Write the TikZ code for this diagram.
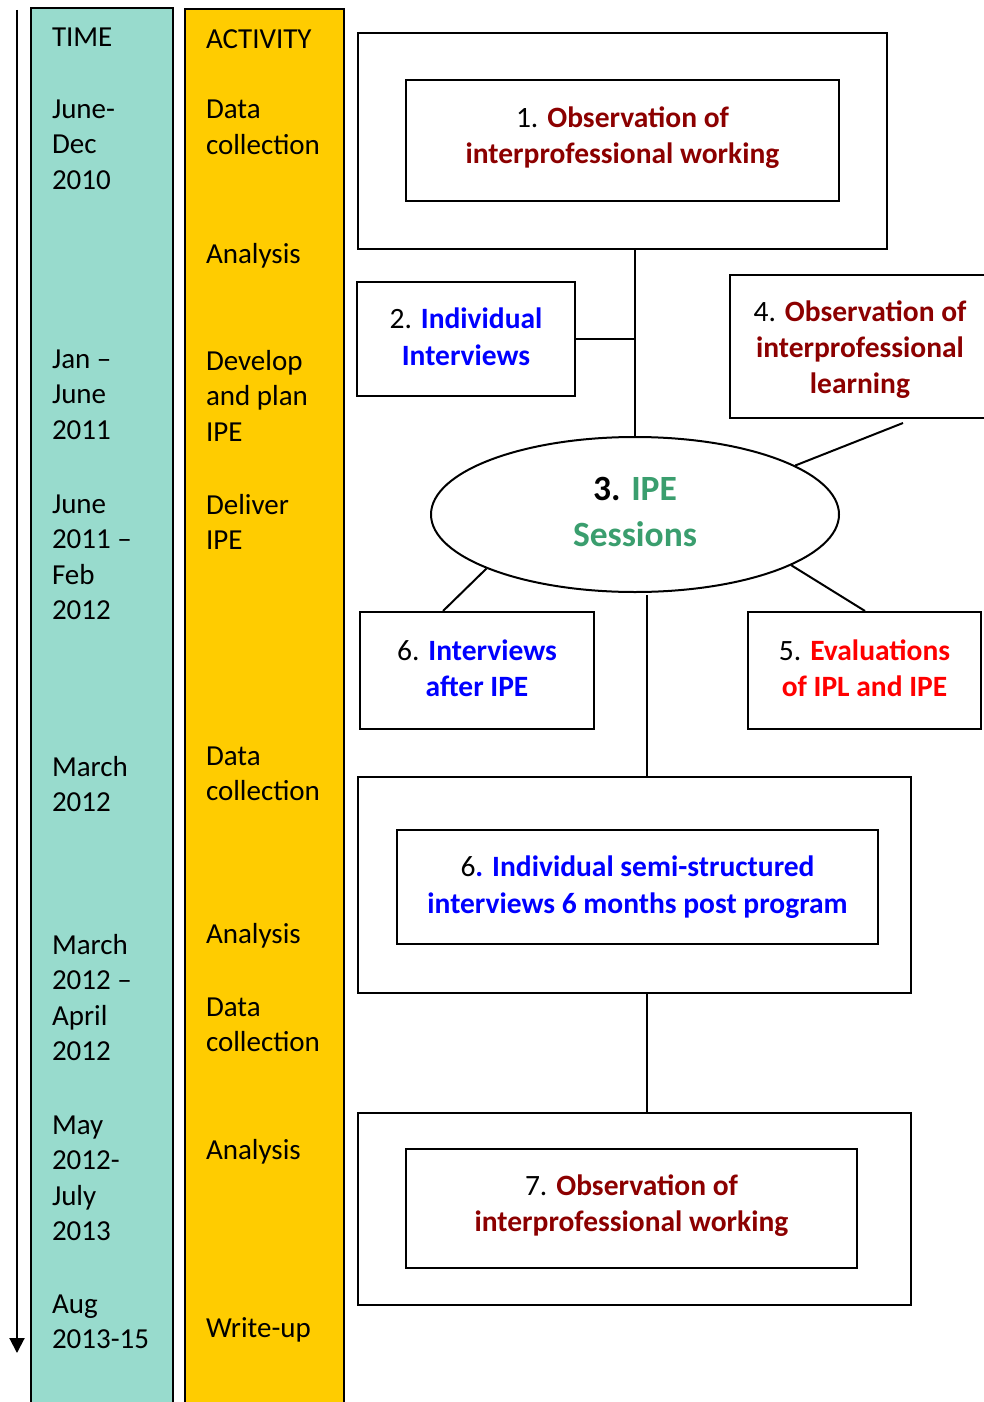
\documentclass[tikz,border=0pt]{standalone}
\usepackage{fontspec}
\setmainfont{Carlito}
\usetikzlibrary{shapes.geometric,arrows.meta}
\definecolor{timecol}{RGB}{152,219,205}
\definecolor{actcol}{RGB}{255,204,0}
\definecolor{obsred}{RGB}{140,0,0}
\definecolor{intblue}{RGB}{0,0,255}
\definecolor{evalred}{RGB}{255,0,0}
\definecolor{ipegreen}{RGB}{58,158,110}
\newcommand{\tstrut}{\rule{0pt}{24pt}}
\newcommand{\lift}[1]{\rule[-#1pt]{0pt}{0pt}}
\newcommand{\obs}[1]{\textcolor{obsred}{\textbf{#1}}}
\newcommand{\blu}[1]{\textcolor{intblue}{\textbf{#1}}}
\newcommand{\evl}[1]{\textcolor{evalred}{\textbf{#1}}}
\newcommand{\grn}[1]{\textcolor{ipegreen}{\textbf{#1}}}
\begin{document}
\begin{tikzpicture}[x=1pt,y=-1pt,line width=2pt,
  colbar/.style={draw,rectangle,inner sep=0pt,minimum width=#1},
  coltext/.style={anchor=north west,inner sep=0pt,align=left,
    font=\fontsize{29}{35.6}\selectfont},
  box/.style={draw,rectangle,inner sep=0pt,align=center,
    font=\fontsize{29.5}{36.5}\selectfont},
  frame/.style={draw,rectangle,inner sep=0pt}]
\useasboundingbox (0,0) rectangle (983,1402);
\fill[white] (0,0) rectangle (983,1402);

% time axis
\coordinate (ax0) at (17,10);
\coordinate (ax1) at (17,1353);
\draw[-{Triangle[length=15pt,width=15pt]}] (ax0) -- (ax1);

% the two column bars (bottoms run past the page edge)
\node[colbar=142,fill=timecol,minimum height=1412] (timebar) at (102,714) {};
\node[colbar=159,fill=actcol,minimum height=1411] (actbar) at (264.5,714.5) {};

% time column
\node[coltext] (tm0) at (51,22) {\tstrut TIME};
\node[coltext] (tm1) at (51,93) {\tstrut June-\\Dec\\2010};
\node[coltext] (tm2) at (51,343) {\tstrut Jan --\\June\\2011};
\node[coltext] (tm3) at (51,488) {\tstrut June\\2011 --\\Feb\\2012};
\node[coltext] (tm4) at (51,751) {\tstrut March\\2012};
\node[coltext] (tm5) at (51,929) {\tstrut March\\2012 --\\April\\2012};
\node[coltext] (tm6) at (51,1109) {\tstrut May\\2012-\\July\\2013};
\node[coltext] (tm7) at (51,1288) {\tstrut Aug\\2013-15};

% activity column
\node[coltext] (ac0) at (205,24) {\tstrut ACTIVITY};
\node[coltext] (ac1) at (205,94) {\tstrut Data\\collection};
\node[coltext] (ac2) at (205,238) {\tstrut Analysis};
\node[coltext] (ac3) at (205,345) {\tstrut Develop\\and plan\\IPE};
\node[coltext] (ac4) at (205,489) {\tstrut Deliver\\IPE};
\node[coltext] (ac5) at (205,740) {\tstrut Data\\collection};
\node[coltext] (ac6) at (205,918) {\tstrut Analysis};
\node[coltext] (ac7) at (205,991) {\tstrut Data\\collection};
\node[coltext] (ac8) at (205,1134) {\tstrut Analysis};
\node[coltext] (ac9) at (205,1312) {\tstrut Write-up};

% stage 1
\node[frame,minimum width=529,minimum height=216] (b1out) at (622.5,141) {};
\node[box,minimum width=433,minimum height=121] (b1in) at (622.5,140.5)
  {1. \obs{Observation of}\\\obs{interprofessional working}\lift{11}};

% stage 2
\node[box,minimum width=218,minimum height=114] (b2) at (466,339)
  {2. \blu{Individual}\\\blu{Interviews}\lift{5}};

% stage 4 (right edge runs past the page edge)
\node[frame,minimum width=270,minimum height=143] (b4) at (865,346.5) {};
\node[box,draw=none,font=\fontsize{29.5}{36}\selectfont] (t4) at (860,351)
  {4. \obs{Observation of}\\\obs{interprofessional}\\\obs{learning}\lift{8}};

% stage 3
\node[draw,ellipse,inner sep=0pt,minimum width=408,minimum height=155,
  align=center,font=\fontsize{35.5}{45.5}\selectfont] (ipe) at (635,514.5)
  {\textbf{3.} \grn{IPE}\\\grn{Sessions}\lift{5}};

% stages 6 and 5
\node[box,minimum width=234,minimum height=117] (b6s) at (477,670.5)
  {6. \blu{Interviews}\\\blu{after IPE}\lift{5}};
\node[box,minimum width=233,minimum height=117] (b5) at (864.5,670.5)
  {5. \evl{Evaluations}\\\evl{of IPL and IPE}\lift{5}};

% follow-up interviews
\node[frame,minimum width=553,minimum height=216] (b6out) at (634.5,885) {};
\node[box,minimum width=481,minimum height=114] (b6in) at (637.5,887)
  {6\blu{. Individual semi-structured}\\\blu{interviews 6 months post program}\lift{4}};

% stage 7
\node[frame,minimum width=553,minimum height=192] (b7out) at (634.5,1209) {};
\node[box,minimum width=451,minimum height=119] (b7in) at (631.5,1208.5)
  {7. \obs{Observation of}\\\obs{interprofessional working}\lift{11}};

% connectors
\draw (ipe.north) -- (ipe.north |- b1out.south);
\draw (b2.east) -- (b2.east -| ipe.north);
\coordinate (c4) at (903,423);
\draw (c4) -- (ipe.17);
\draw (ipe.200) -- ([xshift=84pt]b6s.north west);
\draw (ipe.-18) -- ([xshift=118pt]b5.north west);
\coordinate (c3b) at (647,595);
\draw (c3b) -- (c3b |- b6out.north);
\draw (b6out.south -| c3b) -- (b7out.north -| c3b);
\end{tikzpicture}
\end{document}
